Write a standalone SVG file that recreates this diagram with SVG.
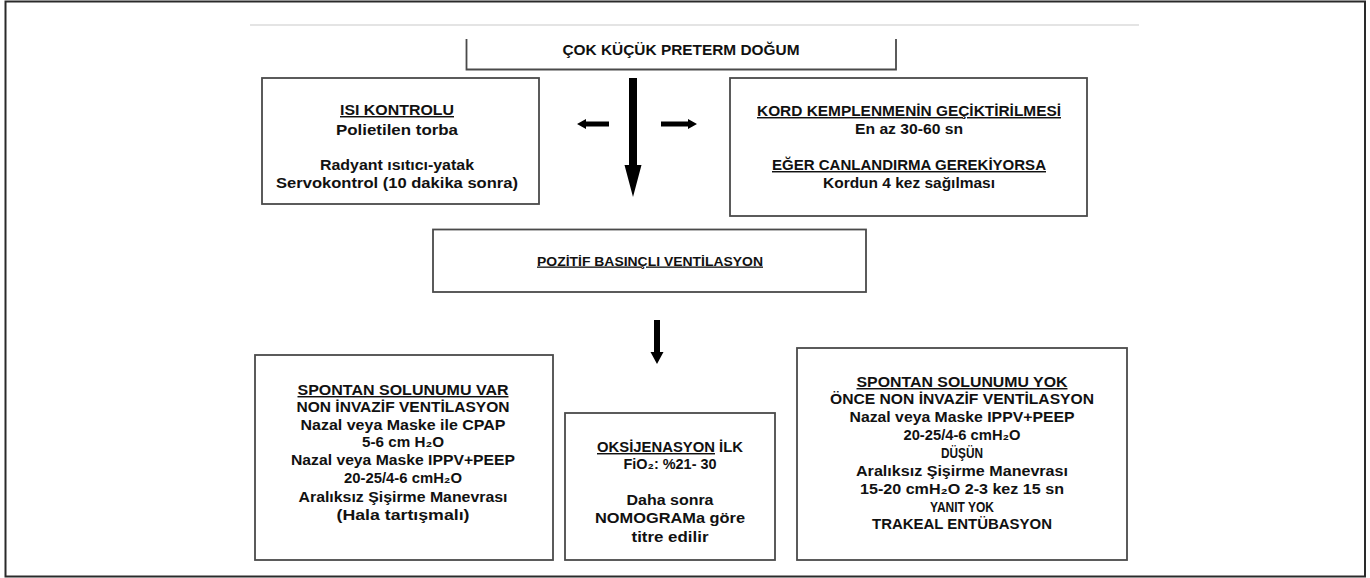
<svg xmlns="http://www.w3.org/2000/svg" width="1370" height="578" viewBox="0 0 1370 578">
<style>
.box{fill:#fff;stroke:#4a4a4a;stroke-width:1.8}
.t{font-family:"Liberation Sans",Arial,sans-serif;font-weight:bold;font-size:14.5px;fill:#111;text-anchor:middle}
.s{font-size:13px}
.u{text-decoration:underline}
.arr{fill:#000}
</style>
<rect x="0" y="0" width="1370" height="578" fill="#fff"/>
<rect x="5.5" y="1.5" width="1359.5" height="575" fill="none" stroke="#2a2a2a" stroke-width="2"/>
<line x1="250" y1="25" x2="1139" y2="25" stroke="#e4e4e4" stroke-width="2"/>

<g id="node-top">
<path d="M466.5,39 V69.5 H896 V39" fill="none" stroke="#4a4a4a" stroke-width="1.8"/>
<text class="t" x="681" y="55" textLength="237" lengthAdjust="spacingAndGlyphs">ÇOK KÜÇÜK PRETERM DOĞUM</text>
</g>

<g id="node-isi">
<rect class="box" x="262" y="78" width="277" height="126"/>
<text class="t u" x="397" y="115" textLength="114" lengthAdjust="spacingAndGlyphs">ISI KONTROLU</text>
<text class="t" x="397" y="135" textLength="122" lengthAdjust="spacingAndGlyphs">Polietilen torba</text>
<text class="t" x="397" y="170" textLength="154" lengthAdjust="spacingAndGlyphs">Radyant ısıtıcı-yatak</text>
<text class="t" x="397" y="188" textLength="242" lengthAdjust="spacingAndGlyphs">Servokontrol (10 dakika sonra)</text>
</g>

<g id="node-kord">
<rect class="box" x="730" y="78" width="357" height="138"/>
<text class="t u" x="909" y="116" textLength="304" lengthAdjust="spacingAndGlyphs">KORD KEMPLENMENİN GEÇİKTİRİLMESİ</text>
<text class="t" x="909" y="134" textLength="108" lengthAdjust="spacingAndGlyphs">En az 30-60 sn</text>
<text class="t u" x="909" y="170" textLength="274" lengthAdjust="spacingAndGlyphs">EĞER CANLANDIRMA GEREKİYORSA</text>
<text class="t" x="909" y="188" textLength="172" lengthAdjust="spacingAndGlyphs">Kordun 4 kez sağılması</text>
</g>

<g id="node-ppv">
<rect class="box" x="433" y="229.5" width="433" height="62.5"/>
<text class="t s u" x="650" y="265.5" textLength="226" lengthAdjust="spacingAndGlyphs">POZİTİF BASINÇLI VENTİLASYON</text>
</g>

<g id="node-var">
<rect class="box" x="255" y="355" width="298" height="205"/>
<text class="t u" x="403" y="395" textLength="211" lengthAdjust="spacingAndGlyphs">SPONTAN SOLUNUMU VAR</text>
<text class="t" x="403" y="412" textLength="213" lengthAdjust="spacingAndGlyphs">NON İNVAZİF VENTİLASYON</text>
<text class="t" x="403" y="430" textLength="205" lengthAdjust="spacingAndGlyphs">Nazal veya Maske ile CPAP</text>
<text class="t" x="403" y="447" textLength="82" lengthAdjust="spacingAndGlyphs">5-6 cm H₂O</text>
<text class="t" x="403" y="465" textLength="224" lengthAdjust="spacingAndGlyphs">Nazal veya Maske IPPV+PEEP</text>
<text class="t" x="403" y="483" textLength="118" lengthAdjust="spacingAndGlyphs">20-25/4-6 cmH₂O</text>
<text class="t" x="403" y="502" textLength="209" lengthAdjust="spacingAndGlyphs">Aralıksız Şişirme Manevrası</text>
<text class="t" x="403" y="520" textLength="133" lengthAdjust="spacingAndGlyphs">(Hala tartışmalı)</text>
</g>

<g id="node-oks">
<rect class="box" x="565" y="413" width="210" height="147"/>
<text class="t" x="670" y="452" textLength="146" lengthAdjust="spacingAndGlyphs"><tspan class="u">OKSİJENASYON</tspan> İLK</text>
<text class="t" x="670" y="469" textLength="93" lengthAdjust="spacingAndGlyphs">FiO₂: %21- 30</text>
<text class="t" x="670" y="505" textLength="87" lengthAdjust="spacingAndGlyphs">Daha sonra</text>
<text class="t" x="670" y="523" textLength="150" lengthAdjust="spacingAndGlyphs">NOMOGRAMa göre</text>
<text class="t" x="670" y="542" textLength="77" lengthAdjust="spacingAndGlyphs">titre edilir</text>
</g>

<g id="node-yok">
<rect class="box" x="797" y="348" width="330" height="212"/>
<text class="t u" x="962" y="387" textLength="211" lengthAdjust="spacingAndGlyphs">SPONTAN SOLUNUMU YOK</text>
<text class="t" x="962" y="404" textLength="264" lengthAdjust="spacingAndGlyphs">ÖNCE NON İNVAZİF VENTİLASYON</text>
<text class="t" x="962" y="422" textLength="225" lengthAdjust="spacingAndGlyphs">Nazal veya Maske IPPV+PEEP</text>
<text class="t" x="962" y="440" textLength="117" lengthAdjust="spacingAndGlyphs">20-25/4-6 cmH₂O</text>
<text class="t" x="962" y="458" textLength="42" lengthAdjust="spacingAndGlyphs">DÜŞÜN</text>
<text class="t" x="962" y="476" textLength="212" lengthAdjust="spacingAndGlyphs">Aralıksız Şişirme Manevrası</text>
<text class="t" x="962" y="494" textLength="204" lengthAdjust="spacingAndGlyphs">15-20 cmH₂O 2-3 kez 15 sn</text>
<text class="t" x="962" y="512" textLength="64" lengthAdjust="spacingAndGlyphs">YANIT YOK</text>
<text class="t" x="962" y="529" textLength="180" lengthAdjust="spacingAndGlyphs">TRAKEAL ENTÜBASYON</text>
</g>

<g id="connectors">
<polygon class="arr" points="629,78 637,78 637,165 641.5,165 633,197 624.5,165 629,165"/>
<polygon class="arr" points="609,121.5 586,121.5 586,119 577,124 586,129 586,126.5 609,126.5"/>
<polygon class="arr" points="661,121.5 688,121.5 688,119 697,124 688,129 688,126.5 661,126.5"/>
<polygon class="arr" points="654,320 660,320 660,352 663.5,352 657,364 650.5,352 654,352"/>
</g>
</svg>
